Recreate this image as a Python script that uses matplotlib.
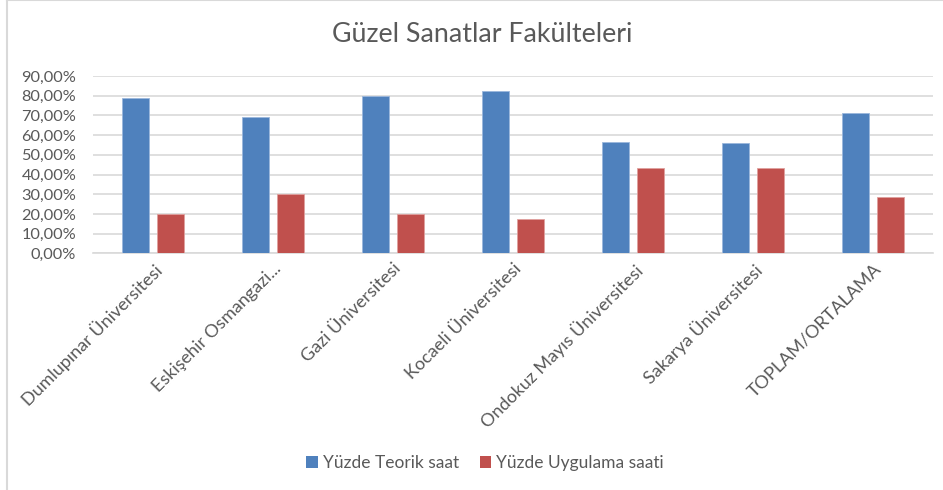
import numpy as np
import matplotlib
matplotlib.use("Agg")
import matplotlib.pyplot as plt
from matplotlib.lines import Line2D
from matplotlib.patches import Patch

plt.rcParams['font.family'] = ['Lato', 'DejaVu Sans']

categories = ["Dumlupınar Üniversitesi", "Eskişehir Osmangazi...", "Gazi Üniversitesi",
              "Kocaeli Üniversitesi", "Ondokuz Mayıs Üniversitesi", "Sakarya Üniversitesi",
              "TOPLAM/ORTALAMA"]
teorik = [79.0, 69.3, 79.8, 82.2, 56.6, 55.8, 71.1]
uygulama = [20.0, 30.3, 20.0, 17.6, 43.2, 43.2, 28.8]
series_names = ["Yüzde Teorik saat", "Yüzde Uygulama saati"]
yticks = [0, 10, 20, 30, 40, 50, 60, 70, 80, 90]

blue = "#4F81BD"
red = "#C0504D"
txt = "#595959"

fig = plt.figure(figsize=(9.43, 4.9), dpi=100)
W, H = 943, 490
ax = fig.add_axes([93 / W, 1 - 253.5 / H, 840 / W, 177.5 / H])

x = np.arange(len(categories))
w = 0.225
ax.bar(x - 0.142, teorik, w, color=blue, edgecolor="#9bb7dc", linewidth=0.6, zorder=3)
ax.bar(x + 0.142, uygulama, w, color=red, edgecolor="#e0a09e", linewidth=0.6, zorder=3)

ax.set_xlim(-0.5, len(categories) - 0.5)
ax.set_ylim(0, 90)
ax.set_yticks(yticks)
ax.set_yticklabels([f"{v},00%" for v in yticks], color=txt, fontsize=11.8)
ax.yaxis.grid(True, color="#d9d9d9", linewidth=1.2, zorder=0)
ax.set_xticks(x)
ax.set_xticklabels(categories, rotation=45, ha="right", rotation_mode="anchor",
                   color=txt, fontsize=13)
ax.tick_params(axis="both", length=0, pad=5)
ax.tick_params(axis="y", pad=12)
for s in ["top", "right", "left"]:
    ax.spines[s].set_visible(False)
ax.spines["bottom"].set_color("#d9d9d9")
ax.spines["bottom"].set_linewidth(1.2)

fig.text(482 / W, 1 - 35 / H, "Güzel Sanatlar Fakülteleri", ha="center", va="center",
         fontsize=19.3, color=txt)

handles = [Patch(facecolor=blue), Patch(facecolor=red)]
fig.legend(handles, series_names, loc="center", bbox_to_anchor=(485 / W, 1 - 463 / H),
           ncol=2, frameon=False, fontsize=12.5, labelcolor=txt, handlelength=0.65,
           handleheight=0.65, handletextpad=0.3, columnspacing=1.2)

# chart border (left and top edges visible)
fig.add_artist(Line2D([7.5 / W, 7.5 / W], [0, 1], color="#d9d9d9", linewidth=1.5,
                      transform=fig.transFigure))
fig.add_artist(Line2D([7.5 / W, 1], [1 - 0.5 / H, 1 - 0.5 / H], color="#d9d9d9",
                      linewidth=1.5, transform=fig.transFigure))

fig.savefig("out.png", dpi=100, facecolor="white")
